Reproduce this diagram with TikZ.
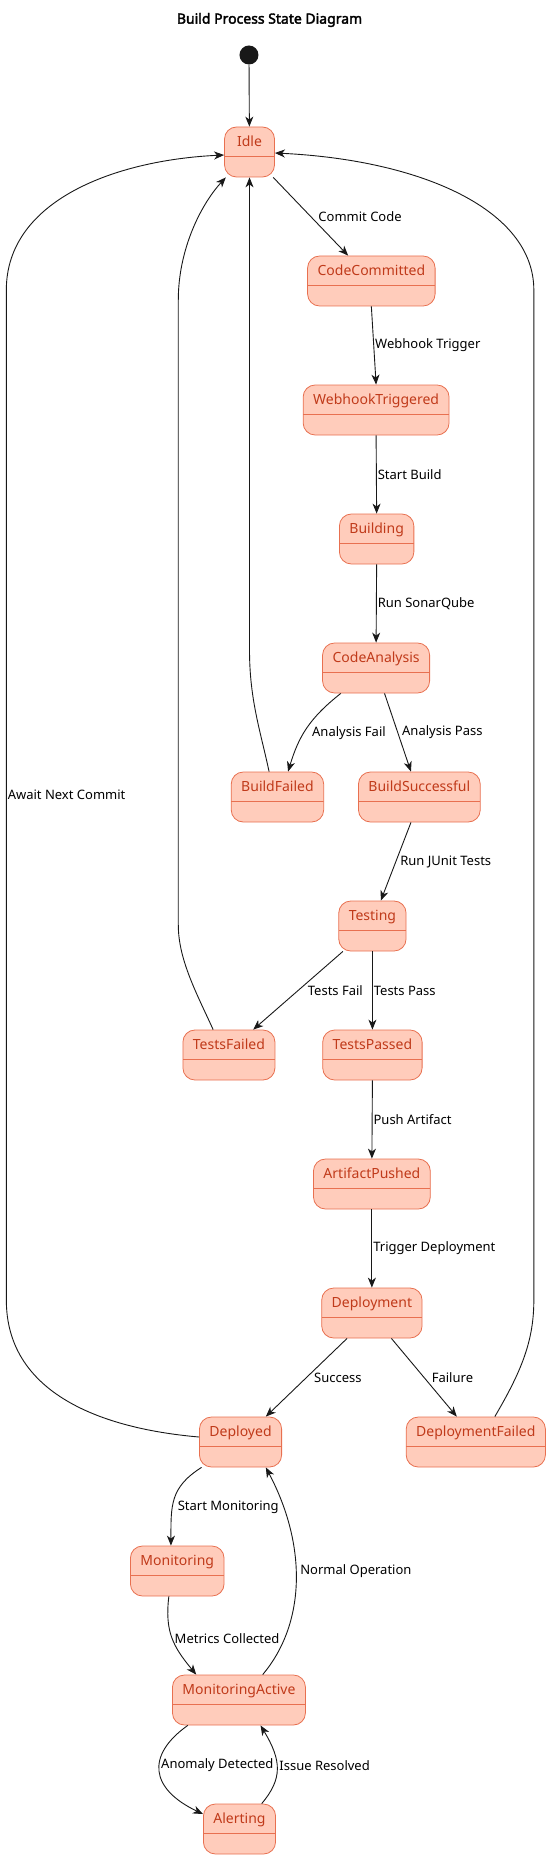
\documentclass[tikz,border=0pt]{standalone}
\usepackage{fontspec}
\setmainfont{Noto Sans}
\newfontfamily\titlefont{Noto Sans}[FakeBold=2.5]
\usetikzlibrary{arrows.meta}
\definecolor{statefill}{RGB}{255,204,187}
\definecolor{stateline}{RGB}{232,112,80}
\definecolor{statetext}{RGB}{192,58,26}
\definecolor{arrowcol}{RGB}{24,24,24}
\tikzset{
  state/.style={draw=stateline, fill=statefill, line width=0.8pt, rounded corners=12pt,
    text=statetext, font=\fontsize{14}{17}\selectfont, inner xsep=10pt, inner ysep=0pt,
    text height=19.5pt, text depth=30.5pt, minimum width=50pt,
    path picture={\draw[stateline, line width=0.8pt]
      ([yshift=-29pt]path picture bounding box.north west) --
      ([yshift=-29pt]path picture bounding box.north east);}},
  startdot/.style={circle, fill=arrowcol, minimum size=19pt, inner sep=0pt},
  lbl/.style={font=\fontsize{13}{15}\selectfont, inner sep=1pt, text=black},
  tr/.style={-{Stealth[length=10pt, width=8pt, inset=3pt]}, line width=0.9pt, draw=arrowcol}
}

\begin{document}
\begin{tikzpicture}[x=1.055pt, y=-1pt]
\useasboundingbox (0,0) rectangle (522.3,1859);
\node[font=\titlefont\fontsize{14}{17}\selectfont] (title) at (255.5,20) {Build Process State Diagram};

\node[startdot] (init) at (236,55) {};
\node[state] (idle) at (236.5,152) {Idle};
\node[state] (committed) at (352,281) {CodeCommitted};
\node[state] (webhook) at (356.5,410) {WebhookTriggered};
\node[state] (building) at (357,539) {Building};
\node[state] (analysis) at (356.5,668) {CodeAnalysis};
\node[state] (buildfail) at (263,797) {BuildFailed};
\node[state] (buildok) at (397.5,797) {BuildSuccessful};
\node[state] (testing) at (353,926) {Testing};
\node[state] (testfail) at (217,1055) {TestsFailed};
\node[state] (testpass) at (353,1055) {TestsPassed};
\node[state] (artifact) at (352.5,1184) {ArtifactPushed};
\node[state] (deploying) at (352.5,1313) {Deployment};
\node[state] (deployed) at (228,1442) {Deployed};
\node[state] (deployfail) at (451,1442) {DeploymentFailed};
\node[state] (monitoring) at (168,1571) {Monitoring};
\node[state] (monactive) at (226.5,1700) {MonitoringActive};
\node[state] (alerting) at (227,1829) {Alerting};

% main line
\draw[tr] (init) -- (idle);
\draw[tr] ([xshift=23.7pt]idle.south) -- node[lbl, right=6.3pt] {Commit Code} ([xshift=-23.2pt]committed.north);
\draw[tr] (committed.south) -- node[lbl, right=0pt] {Webhook Trigger} (webhook.north);
\draw[tr] (webhook.south) -- node[lbl, right=0pt] {Start Build} (building.north);
\draw[tr] (building.south) -- node[lbl, right=0pt] {Run SonarQube} (analysis.north);
\draw[tr] ([xshift=-35.3pt]analysis.south) .. controls +(-30,25) and +(10,-35) .. ([xshift=10.6pt]buildfail.north)
  node[lbl, pos=0.5, right=4.2pt, yshift=-4pt] {Analysis Fail};
\draw[tr] ([xshift=8.4pt]analysis.south) -- node[lbl, right=3pt] {Analysis Pass} ([xshift=-8.4pt]buildok.north);
\draw[tr] ([xshift=-8.4pt]buildok.south) -- node[lbl, right=3pt] {Run JUnit Tests} ([xshift=8.4pt]testing.north);
\draw[tr] ([xshift=-29.5pt]testing.south) -- node[lbl, right=8.4pt] {Tests Fail} ([xshift=24.3pt]testfail.north);
\draw[tr] (testing.south) -- node[lbl, right=0pt] {Tests Pass} (testpass.north);
\draw[tr] (testpass.south) -- node[lbl, right=0pt] {Push Artifact} (artifact.north);
\draw[tr] (artifact.south) -- node[lbl, right=0pt] {Trigger Deployment} (deploying.north);
\draw[tr] ([xshift=-24.8pt]deploying.south) -- node[lbl, right=6.3pt] {Success} ([xshift=25.3pt]deployed.north);
\draw[tr] ([xshift=19.5pt]deploying.south) -- node[lbl, right=6.3pt] {Failure} ([xshift=-19pt]deployfail.north);

% back to Idle
\draw[tr] ([xshift=-8.4pt]buildfail.north) .. controls +(-8,-40) and +(0,50) .. (236.5,650) -- (idle.south);
\draw[tr] ([xshift=-15.8pt]testfail.north) .. controls +(-15,-35) and +(0,35) .. (169,925) -- (169,300)
  .. controls (169,250) and (190,205) .. ([xshift=-23.7pt]idle.south);
\draw[tr] ([yshift=5pt]deployed.west) .. controls (90,1428) and (6,1390) .. (6,1300)
  -- (6,290) node[lbl, pos=0.5, right=0pt] {Await Next Commit}
  .. controls (6,200) and (110,160) .. ([yshift=-3pt]idle.west);
\draw[tr] ([xshift=19pt]deployfail.north) .. controls (495,1370) and (506,1340) .. (506,1300)
  -- (506,290) .. controls (506,210) and (400,160) .. ([yshift=-1pt]idle.east);

% monitoring loop
\draw[tr] ([xshift=-39pt]deployed.south) .. controls +(-30,20) and +(0,-40) .. ([xshift=-6.3pt]monitoring.north)
  node[lbl, pos=0.5, right=2pt, yshift=-8pt] {Start Monitoring};
\draw[tr] ([xshift=-8.4pt]monitoring.south) .. controls +(-4,35) and +(-22,-28) .. ([xshift=-42.7pt]monactive.north)
  node[lbl, pos=0.5, right=1pt] {Metrics Collected};
\draw[tr] ([xshift=23.7pt]monactive.north) .. controls +(40,-50) and +(40,80) .. ([xshift=25.3pt]deployed.south)
  node[lbl, pos=0.5, right=3pt, yshift=11pt] {Normal Operation};
\draw[tr] ([xshift=-51.2pt]monactive.south) .. controls +(-40,30) and +(-50,-25) .. ([yshift=15pt]alerting.west)
  node[lbl, pos=0.5, right=0pt, yshift=6pt] {Anomaly Detected};
\draw[tr] ([xshift=22.2pt]alerting.north) .. controls +(20,-25) and +(20,35) .. ([xshift=21.6pt]monactive.south)
  node[lbl, pos=0.5, right=1pt, yshift=3pt] {Issue Resolved};
\end{tikzpicture}
\end{document}
